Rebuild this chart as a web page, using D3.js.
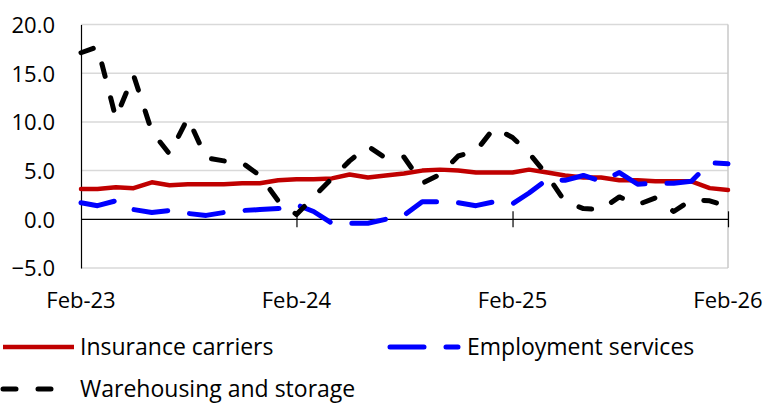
<!DOCTYPE html>
<html>
<head>
<meta charset="utf-8">
<script src="https://cdn.jsdelivr.net/npm/d3@7"></script>
<style>
  body { margin: 0; background: #fff; }
  text { font-family: "Open Sans", Lato, sans-serif; fill: #000; }
</style>
</head>
<body>
<svg id="chart"></svg>
<script>
// monthly series, Feb-23 .. Feb-26
var startMonth = new Date(2023, 1, 1);
var endMonth = new Date(2026, 1, 1);
var months = d3.timeMonth.range(startMonth, d3.timeMonth.offset(endMonth, 1));

var insurance = [3.1, 3.1, 3.3, 3.2, 3.8, 3.5, 3.6, 3.6, 3.6, 3.7, 3.7, 4.0,
    4.1, 4.1, 4.2, 4.6, 4.3, 4.5, 4.7, 5.0, 5.1, 5.0, 4.8, 4.8,
    4.8, 5.1, 4.8, 4.5, 4.3, 4.3, 4.0, 4.0, 3.9, 3.9, 3.9, 3.2, 3.0];
var employment = [1.7, 1.4, 1.9, 1.0, 0.7, 0.9, 0.6, 0.4, 0.7, 0.9, 1.0, 1.1,
    1.5, 0.8, -0.4, -0.4, -0.4, 0.0, 0.4, 1.8, 1.8, 1.7, 1.4, 1.8,
    1.6, 2.7, 4.1, 4.0, 4.5, 3.9, 4.8, 3.6, 3.7, 3.7, 3.9, 5.8, 5.7];
var warehousing = [17.1, 17.7, 10.4, 14.8, 9.0, 6.7, 10.4, 6.3, 6.0, 5.8, 4.5, 1.9,
    0.5, 2.3, 4.2, 6.0, 7.5, 6.3, 6.4, 3.7, 4.6, 6.5, 7.0, 9.4,
    8.4, 6.8, 4.5, 1.8, 1.1, 1.0, 2.3, 1.5, 2.2, 0.8, 2.0, 1.9, 1.3];

var seriesNames = ["Insurance carriers", "Employment services", "Warehousing and storage"];
var yTicks = [-5, 0, 5, 10, 15, 20];
var xTickLabels = ["Feb-23", "Feb-24", "Feb-25", "Feb-26"];
var xTickDates = [new Date(2023, 1, 1), new Date(2024, 1, 1), new Date(2025, 1, 1), new Date(2026, 1, 1)];

var svgWidth = 768;
var svgHeight = 403;
var margin = { top: 24.5, right: 40, bottom: 135, left: 81 };
var chartWidth = svgWidth - margin.left - margin.right;
var chartHeight = svgHeight - margin.top - margin.bottom;

var svg = d3.select("#chart")
    .attr("width", svgWidth)
    .attr("height", svgHeight);

var chart = svg.append("g")
    .attr("transform", "translate(" + margin.left + "," + margin.top + ")");

var xScale = d3.scaleTime()
    .domain([startMonth, endMonth])
    .range([0, chartWidth]);

var yScale = d3.scaleLinear()
    .domain([-5, 20])
    .range([chartHeight, 0]);

// gridlines
chart.selectAll(".grid")
    .data(yTicks.filter(function (d) { return d != 0; }))
    .enter()
    .append("line")
    .attr("x1", 0)
    .attr("x2", chartWidth)
    .attr("y1", function (d) { return yScale(d); })
    .attr("y2", function (d) { return yScale(d); })
    .style("stroke", "#d9d9d9")
    .style("stroke-width", 1.5);

// right border
chart.append("line")
    .attr("x1", chartWidth).attr("x2", chartWidth)
    .attr("y1", 0).attr("y2", chartHeight)
    .style("stroke", "#c8c8c8")
    .style("stroke-width", 1.5);

// y axis
var yAxis = chart.append("g")
    .call(d3.axisLeft(yScale).tickValues(yTicks).tickSize(0).tickPadding(26)
        .tickFormat(d3.format(".1f")));
yAxis.select(".domain").style("stroke", "#000").style("stroke-width", 1.2);
yAxis.selectAll("text")
    .style("font-size", "22px")
    .attr("dy", "0.36em");

// x axis on zero line
var xAxis = chart.append("g")
    .attr("transform", "translate(0," + yScale(0) + ")")
    .call(d3.axisBottom(xScale).tickValues(xTickDates).tickSize(8).tickFormat(""));
xAxis.select(".domain").remove();
xAxis.append("line")
    .attr("x1", 0).attr("x2", chartWidth)
    .style("stroke", "#000").style("stroke-width", 1.2);
xAxis.selectAll(".tick line")
    .attr("y1", -8)
    .style("stroke", "#000").style("stroke-width", 1.2)
    .filter(function (d, i) { return i == 0; }).remove();

// x labels at the bottom
chart.selectAll(".x-label")
    .data(xTickDates)
    .enter()
    .append("text")
    .attr("x", function (d) { return xScale(d); })
    .attr("y", chartHeight + 40)
    .attr("text-anchor", "middle")
    .style("font-size", "22px")
    .text(function (d, i) { return xTickLabels[i]; });

var line = d3.line()
    .x(function (d, i) { return xScale(months[i]); })
    .y(function (d) { return yScale(d); });

var styles = [
    { data: insurance, color: "#c00000", dash: null, width: 4.5 },
    { data: employment, color: "#0000ff", dash: "34,22", width: 5 },
    { data: warehousing, color: "#000000", dash: "13,22", width: 5 }
];

// draw order: insurance, employment, warehousing
styles.forEach(function (s) {
    chart.append("path")
        .datum(s.data)
        .attr("d", line)
        .style("fill", "none")
        .style("stroke", s.color)
        .style("stroke-width", s.width)
        .style("stroke-linecap", "round")
        .style("stroke-linejoin", "round")
        .style("stroke-dasharray", s.dash);
});

// legend
var legendPos = [
    { x: 3, y: 347, len: 71, tx: 80 },
    { x: 390, y: 347, len: 68, tx: 467 },
    { x: 3, y: 389, len: 55, tx: 80 }
];
var legend = svg.selectAll(".legend")
    .data(styles)
    .enter()
    .append("g")
    .attr("transform", function (d, i) { return "translate(" + legendPos[i].x + "," + legendPos[i].y + ")"; });

legend.append("line")
    .attr("x1", 0)
    .attr("x2", function (d, i) { return legendPos[i].len; })
    .style("stroke", function (d) { return d.color; })
    .style("stroke-width", function (d) { return d.width; })
    .style("stroke-linecap", function (d) { return d.dash ? "round" : "butt"; })
    .style("stroke-dasharray", function (d) { return d.dash; });

legend.append("text")
    .attr("x", function (d, i) { return legendPos[i].tx - legendPos[i].x; })
    .attr("dy", "0.36em")
    .style("font-size", "23px")
    .text(function (d, i) { return seriesNames[i]; });
</script>
</body>
</html>
